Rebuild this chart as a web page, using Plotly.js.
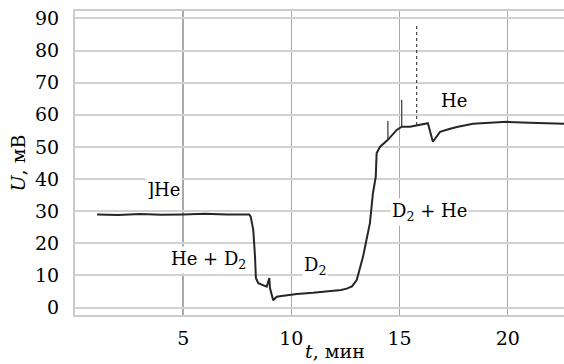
<!DOCTYPE html>
<html>
<head>
<meta charset="utf-8">
<script src="https://cdn.plot.ly/plotly-3.0.1.min.js"></script>
<style>
  html, body { margin: 0; padding: 0; background: #ffffff; }
  #chart { width: 564px; height: 364px; }
</style>
</head>
<body>
<div id="chart"></div>
<script>
// Main recorded signal: time (min) and voltage (mV)
const timeMin = [1.02, 2.0, 3.0, 4.0, 5.0, 6.0, 7.0, 7.8, 8.05, 8.12, 8.24, 8.32, 8.36, 8.47, 8.70, 8.86, 8.98, 9.01, 9.16, 9.32, 9.55, 10.25, 11.0, 11.78, 12.3, 12.56, 12.8, 13.02, 13.31, 13.63, 13.77, 13.90, 13.94, 14.09, 14.46, 14.87, 15.10, 15.48, 15.79, 16.31, 16.54, 16.87, 17.3, 17.65, 18.39, 19.2, 19.96, 21.0, 22.6];
const voltageMV = [29.0, 28.8, 29.1, 28.9, 29.0, 29.2, 29.0, 29.1, 29.0, 28.3, 24.1, 15.8, 9.2, 7.6, 7.0, 6.5, 9.2, 6.1, 2.3, 3.4, 3.6, 4.2, 4.6, 5.0, 5.5, 5.9, 6.6, 8.6, 15.8, 26.3, 35.6, 40.7, 48.0, 50.0, 52.2, 55.3, 56.3, 56.3, 56.8, 57.4, 51.6, 54.7, 55.6, 56.2, 57.2, 57.5, 57.8, 57.5, 57.2];

// Short spikes (solid) and the tall spike (dotted)
const spikeTime = [14.46, 14.46, null, 15.10, 15.10];
const spikeVoltage = [52.2, 58.1, null, 56.3, 64.6];
const tallSpikeTime = [15.79, 15.79];
const tallSpikeVoltage = [56.8, 88.0];

// Axis ticks
const xTicks = [5, 10, 15, 20];
const yTicks = [0, 10, 20, 30, 40, 50, 60, 70, 80, 90];

// Gas labels
const labelText = [']He', 'He + D<sub>2</sub>', 'D<sub>2</sub>', 'D<sub>2</sub> + He', 'He'];
const labelTime = [4.11, 6.15, 11.09, 16.40, 17.51];
const labelVoltage = [36.6, 14.8, 12.9, 29.7, 64.6];

const FONT = 'DejaVu Serif';

const traces = [
  {
    x: timeMin, y: voltageMV, type: 'scatter', mode: 'lines',
    line: { color: '#262626', width: 2 }, hoverinfo: 'skip'
  },
  {
    x: spikeTime, y: spikeVoltage, type: 'scatter', mode: 'lines',
    line: { color: '#333333', width: 1.2 }, connectgaps: false, hoverinfo: 'skip'
  },
  {
    x: tallSpikeTime, y: tallSpikeVoltage, type: 'scatter', mode: 'lines',
    line: { color: '#444444', width: 1.2, dash: 'dot' }, hoverinfo: 'skip'
  }
];

const annotations = labelText.map((t, i) => ({
  x: labelTime[i], y: labelVoltage[i], xref: 'x', yref: 'y',
  text: t, showarrow: false, bgcolor: '#ffffff',
  font: { family: FONT, size: 18, color: '#000000' }
}));
annotations.push({
  x: 0.532, y: -0.118, xref: 'paper', yref: 'paper', xanchor: 'center', yanchor: 'middle',
  text: '<i>t</i>, мин', showarrow: false,
  font: { family: FONT, size: 19, color: '#000000' }
});

const layout = {
  width: 564, height: 364,
  margin: { l: 75, r: 0, t: 11, b: 49 },
  paper_bgcolor: '#ffffff', plot_bgcolor: '#ffffff',
  showlegend: false,
  font: { family: FONT, size: 19, color: '#000000' },
  xaxis: {
    range: [0, 22.6], tickvals: xTicks, ticktext: xTicks.map(String),
    showgrid: true, gridcolor: '#a9a9a9', gridwidth: 1.5,
    zeroline: false, showline: true, mirror: true, linecolor: '#cccccc', linewidth: 2,
    ticks: '', ticklabelstandoff: 5,
    tickfont: { family: FONT, size: 19, color: '#000000' }
  },
  yaxis: {
    range: [-2.3, 92.3], tickvals: yTicks, ticktext: yTicks.map(String),
    showgrid: true, gridcolor: '#d2d2d2', gridwidth: 2,
    zeroline: false, showline: true, linecolor: '#cccccc', linewidth: 2,
    ticks: '', ticklabelstandoff: 10,
    tickfont: { family: FONT, size: 19, color: '#000000' },
    title: { text: '<i>U</i>, мВ', font: { family: FONT, size: 19, color: '#000000' }, standoff: 4 }
  },
  annotations: annotations
};

Plotly.newPlot('chart', traces, layout, { displayModeBar: false, staticPlot: true });
</script>
</body>
</html>
